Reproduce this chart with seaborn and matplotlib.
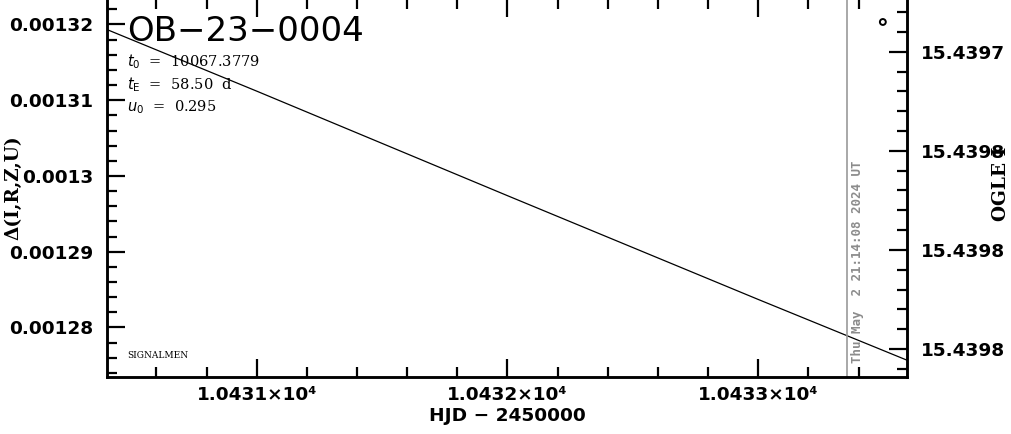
import matplotlib
matplotlib.use('Agg')
import matplotlib.pyplot as plt
from matplotlib.ticker import MultipleLocator, FuncFormatter
import seaborn as sns
import pandas as pd

# model curve (HJD - 2450000, delta flux)
hjd = [10430.405, 10431.0, 10432.0, 10433.0, 10433.592]
delta = [0.0013193, 0.0013112, 0.0012974, 0.0012837, 0.0012757]

# single OGLE I point
ogle_hjd = [10433.497]
ogle_mag = [15.439734]

now_hjd = 10433.355
now_label = 'Thu May  2 21:14:08 2024 UT'
event = 'OB\u221223\u22120004'
params = [r'$t_0$  =  10067.3779', r'$t_{\rm E}$  =  58.50  d', r'$u_0$  =  0.295']

sns.set_theme(style='ticks')
plt.rcParams['font.family'] = ['DejaVu Sans']
plt.rcParams['axes.linewidth'] = 1.8
for k in ['text.color', 'axes.labelcolor', 'xtick.color', 'ytick.color', 'axes.edgecolor']:
    plt.rcParams[k] = 'black'

fig = plt.figure(figsize=(10.11, 4.34), dpi=100)
ax = fig.add_axes([0.1063, 0.132, 0.7905, 0.871])

df = pd.DataFrame({'hjd': hjd, 'delta': delta})
sns.lineplot(data=df, x='hjd', y='delta', ax=ax, color='black', lw=0.9)

ax.set_xlim(10430.405, 10433.592)
ax.set_ylim(0.0012735, 0.0013234)
ax.axvline(now_hjd, color='#999999', lw=1.2)
ax.text(now_hjd + 0.015, 0.0012753, now_label, rotation=90, color='#8c8c8c',
        fontsize=9.0, fontweight='bold', family='DejaVu Sans Mono', ha='left', va='bottom')

ax.xaxis.set_major_locator(MultipleLocator(1))
ax.xaxis.set_minor_locator(MultipleLocator(0.2))
ax.yaxis.set_major_locator(MultipleLocator(1e-5))
ax.yaxis.set_minor_locator(MultipleLocator(2e-6))
ax.xaxis.set_major_formatter(FuncFormatter(lambda v, p: '%.4f\u00d710\u2074' % (v / 1e4)))
ax.yaxis.set_major_formatter(FuncFormatter(lambda v, p: ('%.5f' % v).rstrip('0')))
ax.tick_params(which='both', direction='in', top=True, right=False, width=1.6,
               labelsize=13.3)
ax.tick_params(axis='x', pad=7)
ax.tick_params(axis='y', pad=10)
ax.tick_params(which='major', length=13)
ax.tick_params(which='minor', length=7)
for lab in ax.get_xticklabels() + ax.get_yticklabels():
    lab.set_fontweight('bold')

ax.set_xlabel('HJD \u2212 2450000', fontsize=13.3, fontweight='bold', labelpad=2)
ax.set_ylabel('\u0394(I,R,Z,U)', fontsize=13.3, fontweight='bold', family='DejaVu Serif')
ax.yaxis.set_label_coords(-0.107, 0.5)

ax.text(0.025, 0.912, event, transform=ax.transAxes, fontsize=24.5, va='center', ha='left')
for i, s in enumerate(params):
    ax.text(0.025, 0.8325 - i * 0.0595, s, transform=ax.transAxes, fontsize=10.5,
            family='DejaVu Serif', va='center', ha='left')
ax.text(0.025, 0.057, 'SIGNALMEN', transform=ax.transAxes, fontsize=6.5,
        family='DejaVu Serif', va='center', ha='left')

ax2 = ax.twinx()
sns.scatterplot(x=ogle_hjd, y=ogle_mag, ax=ax2, marker='o', s=18,
                facecolor='none', edgecolor='black', linewidth=1.4)
ax2.set_ylim(15.4398056, 15.4397293)
ax2.yaxis.set_major_locator(MultipleLocator(2e-5))
ax2.yaxis.set_minor_locator(MultipleLocator(4e-6))
ax2.yaxis.set_major_formatter(FuncFormatter(lambda v, p: '%.4f' % v))
ax2.tick_params(which='both', direction='in', width=1.6, labelsize=13.3, pad=10)
ax2.tick_params(which='major', length=13)
ax2.tick_params(which='minor', length=7)
for lab in ax2.get_yticklabels():
    lab.set_fontweight('bold')
ax2.set_ylabel('OGLE I', fontsize=13.3, fontweight='bold', family='DejaVu Serif', rotation=90)
ax2.yaxis.set_label_coords(1.107, 0.51)

fig.savefig('out.png', dpi=100)
